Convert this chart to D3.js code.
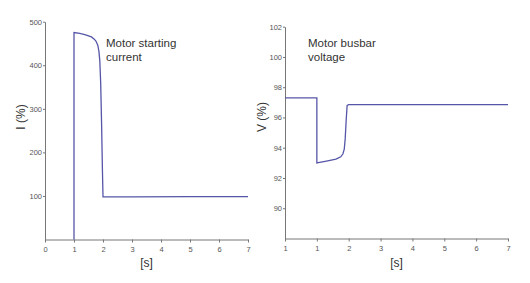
<!DOCTYPE html>
<html>
<head>
<meta charset="utf-8">
<script src="https://cdn.jsdelivr.net/npm/d3@7"></script>
<style>
  body { margin: 0; background: #fff; }
  svg { display: block; font-family: "Liberation Sans", Arial, sans-serif; }
  .axis path, .axis line { stroke: #777; }
  .axis text { fill: #555; font-size: 7.5px; }
</style>
</head>
<body>
<div id="vis"></div>
<script>
// motor starting current, time [s] vs I (%)
var currentT = [1, 1, 1.2, 1.4, 1.6, 1.7, 1.76, 1.82, 1.86, 1.89, 1.92, 1.95, 1.98, 2.0, 3, 5, 7];
var currentI = [0, 475, 473, 470, 465, 460, 455, 446, 432, 410, 360, 270, 160, 98, 98, 98.5, 98.5];
var currentTicksY = [100, 200, 300, 400, 500];
var currentTicksX = [0, 1, 2, 3, 4, 5, 6, 7];

// motor busbar voltage, time [s] vs V (%)
var voltageT = [0, 1, 1, 1.05, 1.3, 1.6, 1.75, 1.82, 1.86, 1.89, 1.92, 1.95, 2.0, 4, 7];
var voltageV = [97.3, 97.3, 93.0, 93.02, 93.12, 93.25, 93.4, 93.6, 93.9, 94.6, 95.8, 96.8, 96.85, 96.85, 96.85];
var voltageTicksY = [90, 92, 94, 96, 98, 100, 102];
var voltageTicksX = [0, 1, 2, 3, 4, 5, 6, 7];
var voltageTickLabels = ["1", "1", "2", "3", "4", "5", "6", "7"];

var lineColor = "#5656a8";

var svg = d3.select("#vis").append("svg")
  .attr("width", 530)
  .attr("height", 283);

function panel(opts) {
  var x = d3.scaleLinear().domain(opts.xDomain).range(opts.xRange);
  var y = d3.scaleLinear().domain(opts.yDomain).range(opts.yRange);

  svg.append("g")
    .attr("class", "axis")
    .attr("transform", "translate(0," + opts.yRange[0] + ")")
    .call(d3.axisBottom(x).tickValues(opts.ticksX).tickSize(3).tickSizeOuter(0)
      .tickFormat(function(d, i) { return opts.tickLabels ? opts.tickLabels[i] : d; }))
    .call(g => g.selectAll("text").attr("dy", "0.9em"));

  svg.append("g")
    .attr("class", "axis")
    .attr("transform", "translate(" + opts.xRange[0] + ",0)")
    .call(d3.axisLeft(y).tickValues(opts.ticksY).tickSize(2).tickSizeOuter(0).tickPadding(1));

  var line = d3.line()
    .x(function(d, i) { return x(opts.xs[i]); })
    .y(function(d) { return y(d); });

  svg.append("path")
    .datum(opts.ys)
    .attr("fill", "none")
    .attr("stroke", lineColor)
    .attr("stroke-width", 1.3)
    .attr("d", line);

  svg.append("text")
    .attr("x", (opts.xRange[0] + opts.xRange[1]) / 2)
    .attr("y", 267)
    .attr("text-anchor", "middle")
    .style("font-size", "12px")
    .style("fill", "#333")
    .text("[s]");

  svg.append("text")
    .attr("transform", "translate(" + opts.yLabelX + ",117) rotate(-90)")
    .attr("text-anchor", "middle")
    .style("font-size", "12px")
    .style("fill", "#333")
    .text(opts.yLabel);

  var t = svg.append("text")
    .attr("x", opts.titleX)
    .attr("y", 47)
    .style("font-size", "11.5px")
    .style("fill", "#333");
  t.append("tspan").attr("x", opts.titleX).text(opts.title[0]);
  t.append("tspan").attr("x", opts.titleX).attr("dy", "13.5").text(opts.title[1]);
}

panel({
  xDomain: [0, 7], xRange: [45, 248],
  yDomain: [0, 500], yRange: [239.5, 21.7],
  ticksX: currentTicksX, ticksY: currentTicksY,
  xs: currentT, ys: currentI,
  yLabel: "I (%)", yLabelX: 25,
  title: ["Motor starting", "current"], titleX: 106
});

panel({
  xDomain: [0, 7], xRange: [285, 508],
  yDomain: [88, 102], yRange: [238.5, 26.7],
  ticksX: voltageTicksX, ticksY: voltageTicksY, tickLabels: voltageTickLabels,
  xs: voltageT, ys: voltageV,
  yLabel: "V (%)", yLabelX: 266,
  title: ["Motor busbar", "voltage"], titleX: 308
});
</script>
</body>
</html>
